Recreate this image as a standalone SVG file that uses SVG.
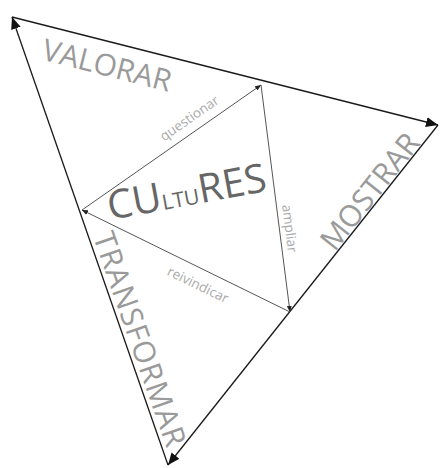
<svg xmlns="http://www.w3.org/2000/svg" width="440" height="468" viewBox="0 0 440 468">
<defs>
<marker id="big" markerUnits="userSpaceOnUse" markerWidth="14" markerHeight="12" refX="12" refY="5" orient="auto">
<path d="M0,0 L12,5 L0,10 Z" fill="#111"/>
</marker>
<marker id="small" markerUnits="userSpaceOnUse" markerWidth="8" markerHeight="6" refX="6" refY="3" orient="auto">
<path d="M0,0.5 L6,3 L0,5.5 Z" fill="#222"/>
</marker>
</defs>
<style>
.outer{stroke:#1a1a1a;stroke-width:1.3;fill:none;marker-end:url(#big)}
.inner{stroke:#555;stroke-width:1;fill:none;marker-end:url(#small)}
.big{font-family:"Open Sans","Liberation Sans",sans-serif;font-size:30px;fill:#9a9a9a}
.lab{font-family:"Open Sans","Liberation Sans",sans-serif;font-size:13.5px;fill:#aaa}
.core{font-family:"Open Sans","Liberation Sans",sans-serif;fill:#666}
</style>
<g id="connectors">
<path class="outer" d="M12,17 L438,125"/>
<path class="outer" d="M438,125 L168,465"/>
<path class="outer" d="M168,465 L12,17"/>
<path class="inner" d="M82,210 L261,85"/>
<path class="inner" d="M261,85 L290,312"/>
<path class="inner" d="M290,312 L82,210"/>
</g>
<g id="valorar"><text class="big" font-size="31" text-anchor="middle" transform="translate(104.5,75.5) rotate(14.2)">VALORAR</text></g>
<g id="mostrar"><text class="big" text-anchor="middle" transform="translate(378,198) rotate(-51.5)">MOSTRAR</text></g>
<g id="transformar"><text class="big" letter-spacing="1" text-anchor="middle" transform="translate(130,343) rotate(70.8)">TRANSFORMAR</text></g>
<g id="cultures"><text class="core" transform="translate(110,220) rotate(-10.5)"><tspan font-size="40">CU</tspan><tspan font-size="21">LTU</tspan><tspan font-size="40">RES</tspan></text></g>
<g id="questionar"><text class="lab" text-anchor="middle" transform="translate(192,122) rotate(-34.8)">questionar</text></g>
<g id="ampliar"><text class="lab" text-anchor="middle" transform="translate(285,229) rotate(82.7)">ampliar</text></g>
<g id="reivindicar"><text class="lab" text-anchor="middle" transform="translate(196,289) rotate(26.1)">reivindicar</text></g>
</svg>
